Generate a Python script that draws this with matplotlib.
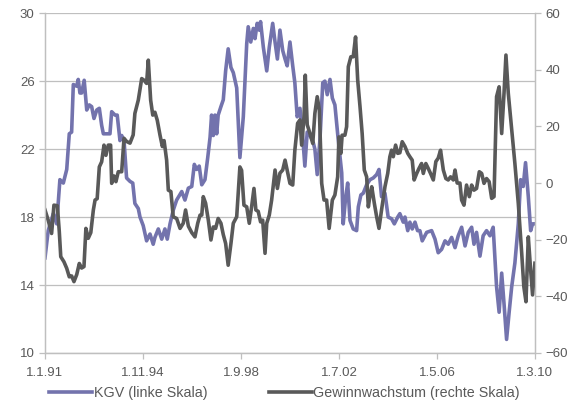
"""
KGV (P/E) vs. earnings growth, 1991-2010, two y-scales.
"""

import matplotlib
matplotlib.use("Agg")
import matplotlib.pyplot as plt

# months since 1.1.91 and read-off values
kgv_month = [
    0, 1.5, 3.9, 5.5, 7.0, 8.6, 10.2, 11.4, 12.5, 13.3, 14.9, 15.6, 16.4, 17.2,
    18.4, 19.6, 20.8, 21.9, 23.0, 24.3, 25.5, 26.6, 27.4, 29.0, 30.5, 31.3, 32.9,
    33.9, 35.2, 36.0, 37.1, 38.3, 39.9, 41.2, 42.2, 43.8, 44.6, 46.1, 47.7, 49.3,
    50.8, 51.6, 53.2, 54.8, 56.3, 57.4, 58.7, 60.2, 61.8, 64.2, 65.7, 67.3, 68.9,
    70.1, 71.2, 72.4, 73.6, 75.1, 76.4, 77.5, 78.2, 79.0, 79.8, 80.6, 81.3, 82.6,
    83.7, 84.8, 86.0, 87.3, 88.4, 90.0, 91.5, 93.1, 94.7, 95.4, 96.6, 97.8, 98.6,
    99.6, 100.6, 101.2, 102.5, 104.1, 105.3, 106.9, 108.0, 109.1, 110.3, 111.6,
    112.7, 113.7, 115.0, 116.3, 117.3, 118.4, 119.7, 121.0, 122.0, 123.1, 124.4,
    125.7, 126.7, 127.8, 129.1, 130.4, 131.4, 132.5, 133.8, 134.9, 136.1, 137.7,
    139.3, 140.0, 141.1, 142.1, 143.2, 144.7, 146.3, 147.1, 148.3, 149.4, 151.0,
    152.6, 154.1, 155.7, 156.8, 158.0, 159.6, 161.1, 162.7, 164.0, 165.6, 166.6,
    168.2, 169.0, 170.3, 171.3, 172.4, 173.7, 174.9, 176.0, 177.1, 179.2, 181.5,
    183.1, 184.6, 186.2, 187.8, 189.3, 190.9, 192.5, 194.0, 195.6, 197.2, 198.7,
    200.3, 201.4, 202.6, 204.2, 205.7, 207.3, 208.9, 210.4, 212.0, 213.2, 214.4,
    215.5, 216.7, 217.9, 219.1, 220.6, 222.2, 223.3, 224.5, 225.6, 226.9, 228.0,
    228.9, 230,
]
kgv = [
    15.6, 17.2, 18.2, 17.6, 20.2, 20.0, 20.8, 22.9, 23.0, 25.8, 25.7, 26.1, 25.3, 25.3,
    26.05, 24.3, 24.6, 24.5, 23.8, 24.3, 24.4, 23.4, 22.9, 22.9, 22.9, 24.2, 24.0,
    24.0, 22.5, 22.8, 22.5, 20.3, 20.1, 20.0, 18.8, 18.5, 18.0, 17.5, 16.6, 17.0,
    16.4, 16.8, 17.3, 16.7, 17.3, 16.7, 17.6, 18.4, 19.0, 19.5, 19.0, 19.7, 19.8,
    21.1, 20.8, 21.0, 19.9, 20.2, 21.5, 22.7, 24.0, 22.8, 24.0, 22.9, 24.0, 24.5,
    24.9, 26.6, 27.9, 26.8, 26.5, 25.6, 21.5, 23.9, 28.2, 29.2, 28.3, 29.1, 28.5,
    29.4, 29.0, 29.5, 28.0, 26.6, 28.0, 29.4, 28.3, 27.3, 29.0, 27.8,
    27.3, 26.9, 28.3, 26.9, 25.9, 23.9, 24.4, 22.7, 21.0, 23.0, 22.8,
    22.5, 22.0, 20.5, 22.6, 25.9, 26.0, 25.2, 26.1, 25.0, 24.6, 22.5,
    20.6, 17.6, 19.1, 20.0, 17.8, 17.3, 17.2, 18.6, 19.3, 19.4, 19.9,
    20.2, 20.3, 20.5, 20.8, 19.2, 19.4, 18.0, 17.9, 17.6, 18.0, 18.2,
    17.7, 18.0, 17.2, 17.7, 17.3, 17.7, 17.2, 17.2, 16.6, 17.1, 17.2,
    16.7, 15.9, 16.1, 16.6, 16.4, 16.8, 16.2, 16.9, 17.4, 16.3, 17.1,
    17.4, 16.4, 17.1, 15.7, 16.9, 17.2, 16.9, 17.4, 13.9, 12.4, 14.7,
    12.9, 10.8, 12.4, 13.9, 15.3, 17.6, 20.2, 19.8, 21.2, 19.2, 17.2,
    17.6, 17.6,
]

growth_month = [
    0, 1.5, 3.1, 4.2, 5.8, 6.7, 7.4, 8.9, 10.2, 11.4, 12.5, 13.6, 14.9, 16.1, 17.2,
    18.3, 19.2, 20.3, 21.5, 22.7, 23.5, 24.5, 25.5, 26.6, 27.7, 28.6, 29.7, 30.8,
    31.3, 32.4, 33.3, 34.4, 36.0, 37.1, 38.3, 39.9, 41.4, 42.2, 43.8, 45.4, 46.5,
    47.7, 48.5, 49.6, 50.6, 51.6, 52.7, 54.0, 55.1, 55.9, 57.1, 57.9, 59.1, 60.2,
    61.8, 63.4, 64.9, 66.0, 67.3, 68.9, 70.4, 71.7, 72.8, 73.6, 74.3, 75.4, 76.7,
    77.9, 79.0, 80.1, 81.3, 82.6, 83.7, 84.8, 86.0, 87.3, 88.4, 90.0, 91.5, 92.3,
    93.4, 94.7, 95.9, 97.0, 98.1, 99.0, 100.1, 101.2, 102.2, 103.3, 104.1, 105.3,
    106.4, 108.0, 109.1, 110.3, 111.6, 112.7, 113.7, 115.0, 116.3, 117.3, 118.6,
    119.7, 120.5, 121.6, 122.2, 123.1, 124.4, 125.7, 126.7, 127.8, 128.8, 129.9,
    131.0, 132.2, 133.4, 134.9, 136.1, 137.4, 138.0, 138.9, 139.5, 140.8, 141.6,
    142.4, 143.6, 144.7, 145.8, 146.8, 147.9, 148.9, 149.9, 151.0, 151.8, 152.6,
    153.4, 154.6, 155.7, 156.8, 158.0, 159.6, 160.9, 161.9, 162.7, 163.5, 164.6,
    165.6, 166.6, 167.7, 169.0, 170.3, 171.3, 172.4, 173.3, 174.5, 175.6, 176.8,
    177.6, 178.8, 179.9, 181.0, 182.3, 183.5, 184.6, 185.7, 187.0, 188.2, 189.3,
    190.4, 191.7, 192.5, 193.5, 194.8, 195.6, 196.7, 197.9, 199.2, 200.3, 201.4,
    202.6, 203.9, 205.0, 206.1, 207.3, 208.5, 209.7, 210.8, 212.0, 213.2, 214.4,
    215.5, 216.4, 217.5, 219.1, 220.6, 222.2, 223.8, 224.8, 225.8, 226.9, 228.0,
    228.9, 230,
]
growth = [
    -9.5, -13.1, -17.8, -7.8, -8.0, -17.0, -26.0, -27.8, -30.1, -33.1, -32.8, -34.8, -32.3, -28.4, -30.0,
    -29.5, -16.0, -19.5, -17.5, -9.5, -6.0, -5.5, 5.7, 7.5, 13.4, 9.8, 13.4, 13.4,
    -0.1, 2.5, 0.5, 4.0, 4.0, 15.8, 14.7, 14.1, 17.0, 24.6, 29.3, 36.9, 36.3,
    35.2, 43.4, 29.3, 24.0, 25.0, 22.2, 16.9, 12.9, 15.0, 8.1, -2.5, -3.0, -11.9,
    -12.5, -16.0, -14.2, -9.5, -15.2, -17.5, -19.0, -14.2, -11.3, -11.3, -4.8, -7.1, -13.2,
    -20.1, -15.5, -16.0, -12.5, -14.2, -18.2, -21.3, -29.0, -21.3, -14.2, -11.9, 5.7, 4.5,
    -7.8, -8.4, -14.2, -8.4, -1.9, -9.5, -10.0, -13.7, -13.1, -24.8, -14.2, -11.3,
    -6.0, 4.6, -1.9, 3.5, 4.6, 8.1, 4.6, -0.1, -0.7, 11.6, 21.1,
    22.3, 13.4, 23.4, 38.1, 20.6, 17.5, 14.0, 24.6, 30.5, 25.8, -0.1,
    -6.0, -6.0, -16.0, -6.0, -4.2, 2.2, 16.3, 10.5, 16.9, 16.9, 19.9,
    41.1, 44.6, 44.6, 51.6, 36.4, 26.9, 17.5, 4.6, 2.2, -8.4, -4.2,
    -1.3, -7.1, -11.9, -16.0, -9.5, -1.3, 3.4, 9.3, 11.6, 9.3, 13.4,
    10.5, 10.7, 14.6, 12.9, 10.5, 9.3, 8.1, 1.1, 3.4, 5.2, 6.9,
    3.4, 6.9, 5.2, 3.4, 1.1, 7.6, 8.8, 11.6, 4.6, 1.6, 1.1,
    2.2, 1.1, 4.6, 0.0, 0.0, -6.0, -7.8, -0.7, -4.8, -0.7, -2.5,
    -1.9, 4.0, 3.4, -0.1, 1.6, 0.5, -5.4, -4.8, 30.5, 34.0, 17.5,
    31.7, 45.2, 31.7, 18.7, 6.9, -7.2, -24.8, -36.6, -41.9, -19.0, -30.8,
    -39.5, -28.3,
]

tick_months = [0, 46, 92, 138, 184, 230]
tick_labels = ["1.1.91", "1.11.94", "1.9.98", "1.7.02", "1.5.06", "1.3.10"]

BLUE = "#7373AD"
DARK = "#595959"
AXIS = "#BFBFBF"
TEXT = "#595959"


def main() -> None:
    plt.rcParams.update({"font.family": "Liberation Sans", "font.size": 9.5})

    fig = plt.figure(figsize=(5.71, 4.07), dpi=100)
    ax = fig.add_axes([0.0788, 0.1327, 0.858, 0.835])
    ax2 = ax.twinx()

    ax.plot(kgv_month, kgv, color=BLUE, lw=2.6, solid_joinstyle="round",
            label="KGV (linke Skala)")
    ax2.plot(growth_month, growth, color=DARK, lw=2.6, solid_joinstyle="round",
             label="Gewinnwachstum (rechte Skala)")

    ax.set_xlim(0, 230)
    ax.set_ylim(10, 30)
    ax.set_yticks([10, 14, 18, 22, 26, 30])
    ax2.set_ylim(-60, 60)
    ax2.set_yticks(range(-60, 61, 20))
    ax.set_xticks(tick_months)
    ax.set_xticklabels(tick_labels)

    ax.grid(axis="y", color=AXIS, lw=0.9)
    ax.set_axisbelow(True)

    for a in (ax, ax2):
        for side in a.spines:
            a.spines[side].set_color(AXIS)
            a.spines[side].set_linewidth(0.9)
        a.spines["top"].set_visible(False)
        a.tick_params(colors=AXIS, labelcolor=TEXT, length=4, width=0.9,
                      labelsize=9.5)
    ax.tick_params(axis="x", pad=6)

    h1, l1 = ax.get_legend_handles_labels()
    h2, l2 = ax2.get_legend_handles_labels()
    fig.legend(h1 + h2, l1 + l2, loc="lower left", bbox_to_anchor=(0.064, -0.014),
               ncol=2, frameon=False, handlelength=3.0, handletextpad=0.1,
               columnspacing=4.3, fontsize=10.3, labelcolor=TEXT)

    fig.savefig("out.png", dpi=100)


if __name__ == "__main__":
    main()
